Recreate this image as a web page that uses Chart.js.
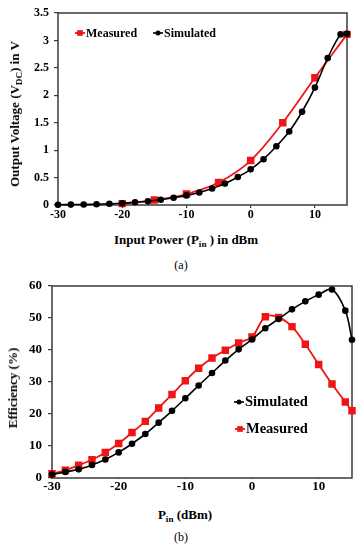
<!DOCTYPE html>
<html>
<head>
<meta charset="utf-8">
<script src="https://cdn.jsdelivr.net/npm/chart.js"></script>
<style>
  body { margin: 0; background: #fff; }
  #wrap { position: relative; width: 362px; height: 550px; background: #fff; font-family: "Liberation Serif", serif; color: #000; }
  canvas { position: absolute; left: 0; }
  .title { position: absolute; font-weight: bold; font-size: 13px; white-space: nowrap; transform: translate(-50%, -50%); }
  .ytitle { transform: translate(-50%, -50%) rotate(-90deg); }
  .title sub { font-size: 0.7em; vertical-align: -0.3em; line-height: 0; }
  .caption { position: absolute; font-size: 12px; transform: translate(-50%, -50%); }
</style>
</head>
<body>
<div id="wrap">
  <canvas id="chartA" width="362" height="225" style="top:0"></canvas>
  <div class="title ytitle" style="left:15px;top:114px">Output Voltage (V<sub>DC</sub>) in V</div>
  <div class="title" style="left:186px;top:240px">Input Power (P<sub>in</sub> ) in dBm</div>
  <div class="caption" style="left:181px;top:265px">(a)</div>

  <canvas id="chartB" width="362" height="228" style="top:270px"></canvas>
  <div class="title ytitle" style="left:13px;top:388px">Efficiency (%)</div>
  <div class="title" style="left:185px;top:515px">P<sub>in</sub> (dBm)</div>
  <div class="caption" style="left:181px;top:537px">(b)</div>
</div>
<script>
// (a) output voltage vs input power
const simPowerA = [-30, -28, -26, -24, -22, -20, -18, -16, -14, -12, -10, -8, -6, -4, -2, 0, 2, 4, 6, 8, 10, 12, 14, 15];
const simVoltage = [0.005, 0.007, 0.01, 0.015, 0.022, 0.032, 0.05, 0.068, 0.096, 0.132, 0.175, 0.227, 0.3, 0.39, 0.51, 0.65, 0.835, 1.07, 1.34, 1.7, 2.14, 2.68, 3.11, 3.12];
const measPowerA = [-20, -15, -10, -5, 0, 5, 10, 15];
const measVoltage = [0.025, 0.09, 0.2, 0.41, 0.81, 1.5, 2.32, 3.11];

// (b) efficiency vs input power
const effPower = [-30, -28, -26, -24, -22, -20, -18, -16, -14, -12, -10, -8, -6, -4, -2, 0, 2, 4, 6, 8, 10, 12, 14, 15];
const simEfficiency = [1.1, 1.9, 2.7, 4.1, 5.8, 8.0, 10.7, 13.75, 17.3, 21.0, 24.9, 28.9, 32.8, 36.7, 40.2, 43.3, 46.8, 49.7, 52.7, 55.2, 57.3, 58.9, 52.3, 43.2];
const measEfficiency = [1.35, 2.4, 4.0, 5.7, 8.0, 10.8, 14.2, 17.7, 21.9, 26.1, 30.4, 34.3, 37.5, 39.9, 42.2, 44.1, 50.4, 50.2, 47.3, 41.8, 35.5, 29.4, 23.75, 21.0];

const xTickValues = [-30, -20, -10, 0, 10];

const FONT = '"Liberation Serif", "Times New Roman", serif';
const AXIS_COLOR = '#3a3a3a';
const RED = '#f01515';

function toPoints(xs, ys) {
  return xs.map((x, i) => ({ x: x, y: ys[i] }));
}

// box around the plot area
const framePlugin = {
  id: 'frame',
  beforeDatasetsDraw(chart) {
    const a = chart.chartArea;
    const ctx = chart.ctx;
    ctx.save();
    ctx.strokeStyle = AXIS_COLOR;
    ctx.lineWidth = 1.5;
    ctx.strokeRect(a.left, a.top, a.right - a.left, a.bottom - a.top);
    ctx.restore();
  }
};

function drawMarker(ctx, style, x, y, r, color) {
  ctx.fillStyle = color;
  ctx.beginPath();
  if (style === 'rect') {
    const s = r * Math.SQRT1_2;
    ctx.rect(x - s, y - s, 2 * s, 2 * s);
  } else {
    ctx.arc(x, y, r, 0, Math.PI * 2);
  }
  ctx.fill();
}

// legend drawn inside the plot, like the original figure
const insideLegend = {
  id: 'insideLegend',
  afterDraw(chart, args, opts) {
    const ctx = chart.ctx;
    ctx.save();
    ctx.font = 'bold ' + opts.fontSize + 'px ' + FONT;
    ctx.textBaseline = 'middle';
    opts.items.forEach(item => {
      const ds = chart.data.datasets[item.index];
      ctx.strokeStyle = ds.borderColor;
      ctx.lineWidth = ds.borderWidth;
      ctx.beginPath();
      ctx.moveTo(item.x, item.y);
      ctx.lineTo(item.x + opts.lineLen, item.y);
      ctx.stroke();
      drawMarker(ctx, ds.pointStyle, item.x + opts.lineLen / 2, item.y, ds.pointRadius, ds.borderColor);
      ctx.fillStyle = '#000';
      ctx.fillText(ds.label, item.x + opts.lineLen + 1, item.y + 0.5);
    });
    ctx.restore();
  }
};

function makeScales(yMin, yMax, yStep, yWidth, tickSize, yPad, xTickLen) {
  return {
    x: {
      type: 'linear',
      min: -30,
      max: 15,
      afterBuildTicks: s => { s.ticks = xTickValues.map(v => ({ value: v })); },
      afterFit: s => { s.height = 20; },
      border: { display: false },
      grid: { drawOnChartArea: false, drawTicks: true, tickLength: xTickLen, color: AXIS_COLOR, lineWidth: 1.2 },
      ticks: { padding: 0, color: '#000', font: { family: FONT, size: tickSize, weight: 'bold' }, maxRotation: 0 }
    },
    y: {
      min: yMin,
      max: yMax,
      afterFit: s => { s.width = yWidth; },
      border: { display: false },
      grid: { drawOnChartArea: false, drawTicks: true, tickLength: 4, color: AXIS_COLOR, lineWidth: 1.2 },
      ticks: {
        stepSize: yStep,
        padding: yPad,
        color: '#000',
        font: { family: FONT, size: tickSize, weight: 'bold' },
        callback: v => String(+v.toFixed(2))
      }
    }
  };
}

const chartA = new Chart(document.getElementById('chartA'), {
  type: 'line',
  data: {
    datasets: [
      {
        label: 'Measured',
        data: toPoints(measPowerA, measVoltage),
        borderColor: RED,
        backgroundColor: RED,
        borderWidth: 1.8,
        pointStyle: 'rect',
        pointRadius: 4,
        tension: 0.35,
        clip: false,
        order: 1
      },
      {
        label: 'Simulated',
        data: toPoints(simPowerA, simVoltage),
        borderColor: '#000000',
        backgroundColor: '#000000',
        borderWidth: 1.6,
        pointStyle: 'circle',
        pointRadius: 2.5,
        tension: 0.35,
        clip: false,
        order: 0
      }
    ]
  },
  options: {
    responsive: false,
    animation: false,
    layout: { padding: { top: 13, right: 15, bottom: 0, left: 0 } },
    scales: makeScales(0, 3.5, 0.5, 58, 12, 5, 3),
    plugins: {
      legend: { display: false },
      tooltip: { enabled: false },
      insideLegend: {
        fontSize: 12,
        lineLen: 10,
        items: [
          { index: 0, x: 75, y: 33 },
          { index: 1, x: 153, y: 33 }
        ]
      }
    }
  },
  plugins: [framePlugin, insideLegend]
});

const chartB = new Chart(document.getElementById('chartB'), {
  type: 'line',
  data: {
    datasets: [
      {
        label: 'Simulated',
        data: toPoints(effPower, simEfficiency),
        borderColor: '#000000',
        backgroundColor: '#000000',
        borderWidth: 1.6,
        pointStyle: 'circle',
        pointRadius: 2.5,
        tension: 0.35,
        clip: false
      },
      {
        label: 'Measured',
        data: toPoints(effPower, measEfficiency),
        borderColor: RED,
        backgroundColor: RED,
        borderWidth: 1.8,
        pointStyle: 'rect',
        pointRadius: 4,
        tension: 0.35,
        clip: false
      }
    ]
  },
  options: {
    responsive: false,
    animation: false,
    layout: { padding: { top: 16, right: 10, bottom: 0, left: 0 } },
    scales: makeScales(0, 60, 10, 52, 13, 6, 1),
    plugins: {
      legend: { display: false },
      tooltip: { enabled: false },
      insideLegend: {
        fontSize: 14.5,
        lineLen: 10,
        items: [
          { index: 0, x: 234, y: 132 },
          { index: 1, x: 235, y: 159 }
        ]
      }
    }
  },
  plugins: [framePlugin, insideLegend]
});
</script>
</body>
</html>
